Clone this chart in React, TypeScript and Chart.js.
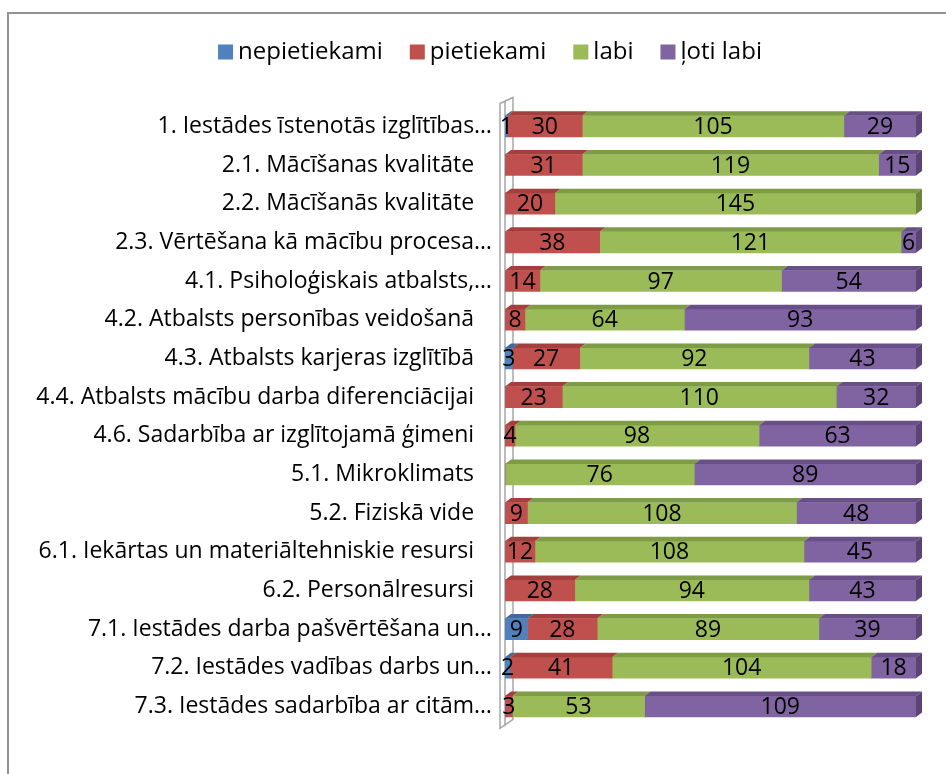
import { useEffect, useRef } from "react";
import { Chart, registerables } from "chart.js";
Chart.register(...registerables);

const categories = [
  "1. Iestādes īstenotās izglītības…",
  "2.1. Mācīšanas kvalitāte",
  "2.2. Mācīšanās kvalitāte",
  "2.3. Vērtēšana kā mācību procesa…",
  "4.1. Psiholoģiskais atbalsts,…",
  "4.2. Atbalsts personības veidošanā",
  "4.3. Atbalsts karjeras izglītībā",
  "4.4. Atbalsts mācību darba diferenciācijai",
  "4.6. Sadarbība ar izglītojamā ģimeni",
  "5.1. Mikroklimats",
  "5.2. Fiziskā vide",
  "6.1. Iekārtas un materiāltehniskie resursi",
  "6.2. Personālresursi",
  "7.1. Iestādes darba pašvērtēšana un…",
  "7.2. Iestādes vadības darbs un…",
  "7.3. Iestādes sadarbība ar citām…",
];

const seriesNames = ["nepietiekami", "pietiekami", "labi", "ļoti labi"];
const nepietiekami = [1, 0, 0, 0, 0, 0, 3, 0, 0, 0, 0, 0, 0, 9, 2, 0];
const pietiekami = [30, 31, 20, 38, 14, 8, 27, 23, 4, 0, 9, 12, 28, 28, 41, 3];
const labi = [105, 119, 145, 121, 97, 64, 92, 110, 98, 76, 108, 108, 94, 89, 104, 53];
const lotiLabi = [29, 15, 0, 6, 54, 93, 43, 32, 63, 89, 48, 45, 43, 39, 18, 109];
const axisMax = 165;

const frontColors = ["#4F81BD", "#C0504D", "#9BBB59", "#8064A2"];
const topColors = ["#3E6A9F", "#A33F3C", "#7E9B45", "#684F88"];
const sideColors = ["#355B8A", "#8E3634", "#6C853B", "#5A4476"];

const FONT = "'Open Sans', 'Noto Sans', sans-serif";

const wallPlugin = {
  id: "wall3d",
  beforeDatasetsDraw(chart: any) {
    const { ctx, chartArea } = chart;
    const l = chartArea.left - 5;
    const r = chartArea.left + 8;
    const t = chartArea.top;
    const b = chartArea.bottom;
    ctx.save();
    ctx.strokeStyle = "#A6A6A6";
    ctx.lineWidth = 1.5;
    ctx.beginPath();
    ctx.moveTo(l, t - 3.5);
    ctx.lineTo(r, t - 9.5);
    ctx.lineTo(r, b - 6.5);
    ctx.lineTo(l, b + 2.5);
    ctx.closePath();
    ctx.stroke();
    ctx.beginPath();
    ctx.moveTo(l + 5, t - 5.5);
    ctx.lineTo(l + 5, b + 0.5);
    ctx.stroke();
    ctx.restore();
  },
};

const bar3dPlugin = {
  id: "bar3d",
  afterDatasetsDraw(chart: any) {
    const { ctx } = chart;
    const DX = 6;
    const DY = 4.5;
    const n = chart.data.labels.length;
    ctx.save();
    for (let i = 0; i < n; i++) {
      let lastIdx = -1;
      chart.data.datasets.forEach((ds: any, di: number) => {
        if (ds.data[i]) lastIdx = di;
      });
      chart.data.datasets.forEach((ds: any, di: number) => {
        const v = ds.data[i];
        if (!v) return;
        const el = chart.getDatasetMeta(di).data[i];
        const p = el.getProps(["x", "y", "base", "height"], true);
        const left = Math.min(p.base, p.x);
        const right = Math.max(p.base, p.x);
        const top = p.y - p.height / 2;
        const bottom = p.y + p.height / 2;
        ctx.fillStyle = topColors[di];
        ctx.beginPath();
        ctx.moveTo(left, top);
        ctx.lineTo(left + DX, top - DY);
        ctx.lineTo(right + DX, top - DY);
        ctx.lineTo(right, top);
        ctx.closePath();
        ctx.fill();
        if (di === lastIdx) {
          ctx.fillStyle = sideColors[di];
          ctx.beginPath();
          ctx.moveTo(right, top);
          ctx.lineTo(right + DX, top - DY);
          ctx.lineTo(right + DX, bottom - DY);
          ctx.lineTo(right, bottom);
          ctx.closePath();
          ctx.fill();
        }
      });
    }
    ctx.restore();
  },
};

const labelPlugin = {
  id: "valueLabels",
  afterDatasetsDraw(chart: any) {
    const { ctx } = chart;
    ctx.save();
    ctx.font = `23px ${FONT}`;
    ctx.fillStyle = "#000";
    ctx.textAlign = "center";
    ctx.textBaseline = "middle";
    chart.data.datasets.forEach((ds: any, di: number) => {
      const meta = chart.getDatasetMeta(di);
      ds.data.forEach((v: number, i: number) => {
        if (!v) return;
        const p = meta.data[i].getProps(["x", "y", "base"], true);
        ctx.fillText(String(v), (p.x + p.base) / 2, p.y + 1);
      });
    });
    ctx.restore();
  },
};

const legendPlugin = {
  id: "customLegend",
  afterDraw(chart: any) {
    const { ctx } = chart;
    ctx.save();
    ctx.font = `24px ${FONT}`;
    const box = 15;
    const gap = 5;
    const spacing = 27;
    const widths = seriesNames.map((s) => ctx.measureText(s).width);
    const total =
      widths.reduce((a, w) => a + box + gap + w, 0) + spacing * (seriesNames.length - 1);
    let x = 490 - total / 2;
    const cy = 52;
    ctx.textBaseline = "middle";
    ctx.textAlign = "left";
    seriesNames.forEach((s, i) => {
      ctx.fillStyle = frontColors[i];
      ctx.fillRect(x, cy - box / 2, box, box);
      ctx.fillStyle = "#000";
      ctx.fillText(s, x + box + gap, cy);
      x += box + gap + widths[i] + spacing;
    });
    ctx.restore();
  },
};

export default function App() {
  const ref = useRef<HTMLCanvasElement>(null);
  useEffect(() => {
    const chart = new Chart(ref.current as HTMLCanvasElement, {
      type: "bar",
      data: {
        labels: categories,
        datasets: [nepietiekami, pietiekami, labi, lotiLabi].map((d, i) => ({
          label: seriesNames[i],
          data: d,
          backgroundColor: frontColors[i],
          borderWidth: 0,
          barThickness: 21,
        })),
      },
      options: {
        indexAxis: "y",
        responsive: false,
        animation: false,
        devicePixelRatio: 1,
        layout: { padding: { top: 107, bottom: 48.2, left: 0, right: 64 } },
        plugins: {
          legend: { display: false },
          tooltip: { enabled: false },
        },
        scales: {
          x: { stacked: true, display: false, min: 0, max: axisMax },
          y: {
            stacked: true,
            grid: { display: false, drawTicks: false },
            border: { display: false },
            ticks: {
              color: "#000",
              autoSkip: false,
              padding: 13,
              font: { family: FONT, size: 23 },
              callback: (_v: any, i: number) => {
                const s = categories[i];
                return s.endsWith("…") ? s : s + "   ";
              },
            },
            afterFit: (s: any) => {
              s.width = 505;
            },
          },
        },
      } as any,
      plugins: [wallPlugin, bar3dPlugin, labelPlugin, legendPlugin],
    });
    return () => chart.destroy();
  }, []);
  return (
    <div
      style={{
        position: "fixed",
        left: 0,
        top: 0,
        width: 946,
        height: 774,
        overflow: "hidden",
        background: "#fff",
      }}
    >
      <div
        style={{
          position: "absolute",
          left: 7,
          top: 12,
          width: 1000,
          height: 800,
          border: "2px solid #929292",
          boxSizing: "border-box",
        }}
      />
      <canvas
        ref={ref}
        width={980}
        height={774}
        style={{ position: "absolute", left: 0, top: 0, width: 980, height: 774 }}
      />
    </div>
  );
}
